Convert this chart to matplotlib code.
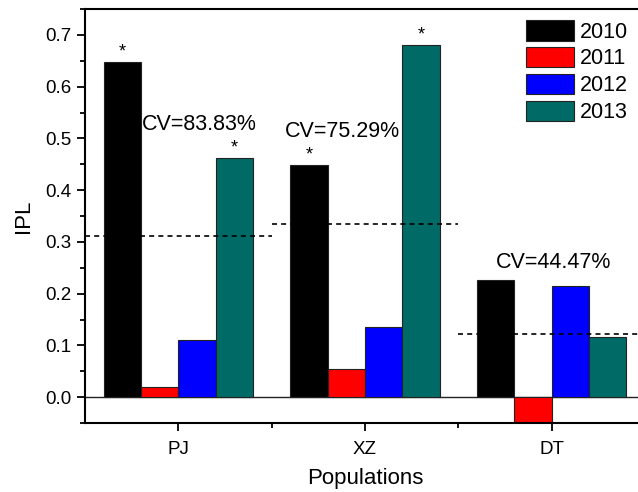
import numpy as np
import matplotlib
matplotlib.use("Agg")
import matplotlib.pyplot as plt
from matplotlib.ticker import MultipleLocator, FixedLocator

populations = ["PJ", "XZ", "DT"]
years = ["2010", "2011", "2012", "2013"]
ipl_2010 = [0.648, 0.448, 0.226]
ipl_2011 = [0.020, 0.054, -0.050]
ipl_2012 = [0.111, 0.135, 0.215]
ipl_2013 = [0.462, 0.680, 0.117]
mean_ipl = [0.312, 0.334, 0.122]
cv_labels = ["CV=83.83%", "CV=75.29%", "CV=44.47%"]
# which bars carry a star (population index, year index)
starred = [(0, 0), (0, 3), (1, 0), (1, 3)]

colors = ["#000000", "#ff0000", "#0000ff", "#006b66"]
plt.rcParams['font.family'] = ['Liberation Sans', 'DejaVu Sans']

fig = plt.figure(figsize=(6.38, 4.92), dpi=100)
ax = fig.add_axes([0.1332, 0.1402, 0.8777, 0.8415])

x = np.arange(1, len(populations) + 1)
w = 0.2
series = [ipl_2010, ipl_2011, ipl_2012, ipl_2013]
for i, (vals, c, yr) in enumerate(zip(series, colors, years)):
    ax.bar(x + (i - 1.5) * w, vals, w, color=c, edgecolor="#222222",
           linewidth=0.8, label=yr, zorder=2)

for p, yi in starred:
    v = series[yi][p]
    ax.text(x[p] + (yi - 1.5) * w, v + 0.003, "*", ha="center", va="bottom",
            fontsize=13)

for i, m in enumerate(mean_ipl):
    ax.plot([x[i] - 0.5, x[i] + 0.5], [m, m], color="black", lw=1.2,
            dashes=(3, 2.5), zorder=3)

cv_pos = [(1.115, 0.526), (1.88, 0.513), (3.008, 0.261)]
for (cx, cy), lab in zip(cv_pos, cv_labels):
    ax.text(cx, cy, lab, ha="center", va="center", fontsize=15.5)

ax.set_xlim(0.5, 3.5)
ax.set_ylim(-0.05, 0.75)
ax.set_xticks(x)
ax.set_xticklabels(populations, fontsize=13.5)
ax.xaxis.set_minor_locator(FixedLocator([1.5, 2.5]))
ax.yaxis.set_minor_locator(MultipleLocator(0.05))
ax.set_yticks(np.arange(0, 0.71, 0.1))
ax.set_yticklabels(["%.1f" % t for t in np.arange(0, 0.71, 0.1)], fontsize=13.5)
ax.tick_params(which="major", direction="out", length=6, width=1.3)
ax.tick_params(axis="x", which="major", pad=7)
ax.tick_params(which="minor", direction="out", length=3.5, width=1.3)
for s in ax.spines.values():
    s.set_linewidth(1.5)
ax.axhline(0, color="#222222", lw=1.0, zorder=1)

ax.set_xlabel("Populations", fontsize=16, labelpad=7)
ax.set_ylabel("IPL", fontsize=16, labelpad=8)

ax.legend(loc="upper left", bbox_to_anchor=(0.765, 1.005), frameon=False,
          fontsize=15.5, handlelength=2.2, handleheight=1.1, labelspacing=0.2,
          handletextpad=0.3, borderaxespad=0.2)

fig.savefig("out.png", dpi=100)
